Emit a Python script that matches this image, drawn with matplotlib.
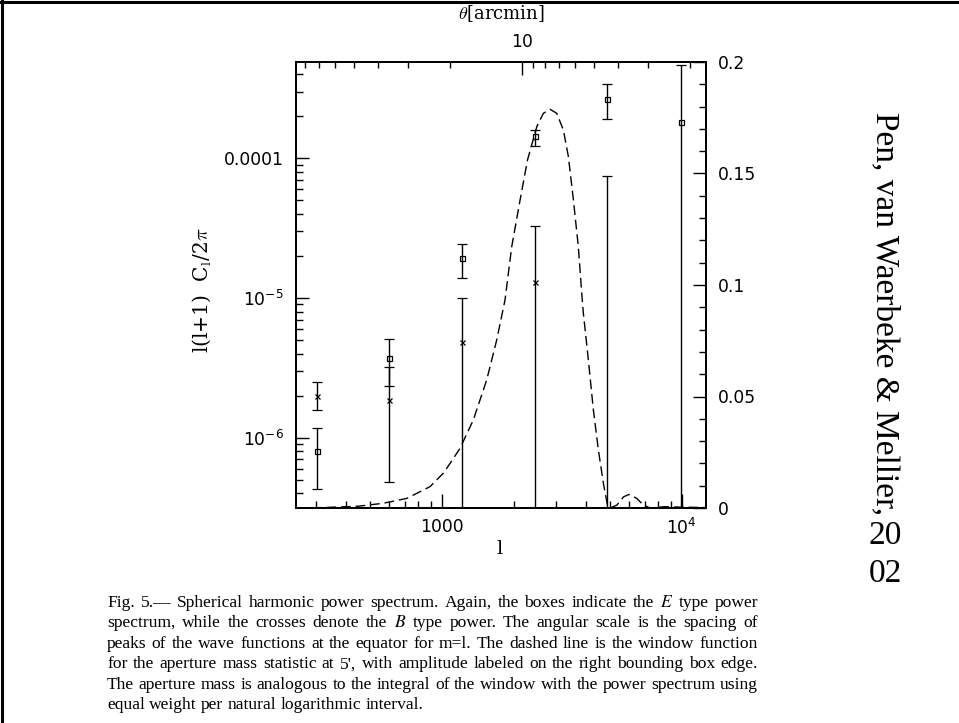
import numpy as np
import matplotlib.pyplot as plt
from matplotlib.ticker import NullFormatter, MultipleLocator

# E (boxes) and B (crosses) power per band
ell = [301, 603, 1218, 2441, 4896, 9900]
e_val = [8.07e-7, 3.70e-6, 1.92e-5, 1.444e-4, 2.67e-4, 1.82e-4]
e_hi = [1.18e-6, 5.11e-6, 2.42e-5, 1.59e-4, 3.39e-4, 4.68e-4]
e_lo = [4.3e-7, 2.34e-6, 1.40e-5, 1.225e-4, 1.90e-4, 1e-8]
b_val = [1.99e-6, 1.86e-6, 4.87e-6, 1.31e-5, 2e-7, np.nan]
b_hi = [2.49e-6, 3.22e-6, 1.00e-5, 3.28e-5, 7.51e-5, np.nan]
b_lo = [1.58e-6, 4.84e-7, 1e-8, 1e-8, 1e-8, np.nan]

# aperture mass window (right axis)
w_ell = [250, 321, 450, 569, 715, 894, 1015, 1083, 1192, 1354, 1539, 1694, 1835,
         1957, 2120, 2276, 2489, 2651, 2827, 3014, 3212, 3371, 3537, 3707, 3831,
         3891, 4082, 4283, 4494, 4715, 4902, 5030, 5365, 5718, 6036, 6497, 6925,
         7385, 8500, 9800, 12500]
w_amp = [0.0, 0.0002, 0.0008, 0.0021, 0.0043, 0.0096, 0.0156, 0.0200, 0.0268,
         0.0395, 0.0574, 0.0753, 0.0933, 0.1172, 0.1381, 0.156, 0.171, 0.177,
         0.1788, 0.177, 0.1695, 0.1575, 0.1381, 0.1172, 0.0963, 0.0873, 0.0664,
         0.044, 0.026, 0.0111, 0.0013, 0.0, 0.0013, 0.005, 0.0061, 0.0043, 0.0013,
         0.0, 0.0006, 0.0004, 0.0002]

caption = [
    "Fig. 5.\u2014 Spherical harmonic power spectrum. Again, the boxes indicate the $E$ type power",
    "spectrum, while the crosses denote the $B$ type power. The angular scale is the spacing of",
    "peaks of the wave functions at the equator for m=l. The dashed line is the window function",
    "for the aperture mass statistic at 5', with amplitude labeled on the right bounding box edge.",
    "The aperture mass is analogous to the integral of the window with the power spectrum using",
    "equal weight per natural logarithmic interval.",
]

W, H = 959, 723
fig = plt.figure(figsize=(W / 100, H / 100), dpi=100)

# axes box in pixels: left 296, right 706, top 62, bottom 508
ax = fig.add_axes([296 / W, 1 - 508 / H, 410 / W, 446 / H])
ax.set_xscale('log')
ax.set_yscale('log')
xlo, xhi = 247, 12620
ax.set_xlim(xlo, xhi)
ax.set_ylim(3.14e-7, 4.89e-4)

def bars(val, lo, hi, marker):
    val = np.array(val)
    yerr = [val - np.array(lo), np.array(hi) - val]
    ax.errorbar(ell, val, yerr=yerr, fmt=marker, color='black', ms=3.6,
                mfc='none', mec='black', mew=0.9, elinewidth=1.0,
                capsize=3.6, capthick=1.0)

bars(e_val, e_lo, e_hi, 's')
bars(b_val, b_lo, b_hi, 'x')

ax.set_xticks([1000, 10000], ['1000', '$10^4$'])
ax.set_yticks([1e-6, 1e-5, 1e-4], ['$10^{-6}$', '$10^{-5}$', '0.0001'])
ax.xaxis.set_minor_formatter(NullFormatter())
ax.yaxis.set_minor_formatter(NullFormatter())
ax.tick_params(which='both', direction='in', top=False, right=False,
               labelsize=12.3, width=1.0)
ax.tick_params(axis='y', which='major', length=9.5, pad=9)
ax.tick_params(axis='x', which='major', length=10, pad=7)
ax.tick_params(which='minor', length=5)

# right axis: window amplitude
axr = ax.twinx()
axr.plot(w_ell, w_amp, color='black', lw=1.0, dashes=(7, 3.5))
axr.set_xlim(xlo, xhi)
axr.set_ylim(0, 0.2)
axr.set_yticks([0, 0.05, 0.1, 0.15, 0.2], ['0', '0.05', '0.1', '0.15', '0.2'])
axr.yaxis.set_minor_locator(MultipleLocator(0.01))
axr.tick_params(which='both', direction='in', labelsize=12.3, width=1.0)
axr.tick_params(which='major', length=9.5, pad=8.5)
axr.tick_params(which='minor', length=5)

# top axis: angular scale theta = 21600 / l arcmin
axt = ax.twiny()
axt.set_xscale('log')
axt.set_xlim(21600 / xlo, 21600 / xhi)
axt.set_xticks([10], ['10'])
axt.xaxis.set_minor_formatter(NullFormatter())
axt.tick_params(which='both', direction='in', labelsize=12.3, width=1.0)
axt.tick_params(which='major', length=9, pad=8)
axt.tick_params(which='minor', length=4)

for a in (ax, axr, axt):
    for s in a.spines.values():
        s.set_linewidth(1.3)

fig.text(501 / W, 1 - 14 / H, r'$\theta$[arcmin]', ha='center', va='center',
         fontsize=13, family='DejaVu Serif', math_fontfamily='cm')
fig.text(500 / W, 1 - 549 / H, 'l', ha='center', va='center', fontsize=14,
         family='DejaVu Serif')
fig.text(202 / W, 1 - 290 / H, r'l(l+1)  C$_{\rm l}$/2$\pi$', rotation=90,
         ha='center', va='center', fontsize=14.5, family='DejaVu Serif',
         math_fontfamily='cm')

# credit on the right side
fig.text(885 / W, 1 - 112 / H, 'Pen, van Waerbeke & Mellier,', rotation=-90,
         ha='center', va='top', fontsize=24, family='Liberation Serif')
fig.text(885 / W, 1 - 536 / H, '20', ha='center', va='center', fontsize=24,
         family='Liberation Serif')
fig.text(885 / W, 1 - 574 / H, '02', ha='center', va='center', fontsize=24,
         family='Liberation Serif')

# caption, justified to the block width like the printed page
cap_left, cap_width = 107, 651
renderer = fig.canvas.get_renderer()
for i, line in enumerate(caption):
    y = 1 - (603 + 20.4 * i) / H
    words = line.split(' ')
    texts = [fig.text(0, y, w, ha='left', va='center', fontsize=12.6,
                      family='Liberation Serif', math_fontfamily='stix')
             for w in words]
    widths = [t.get_window_extent(renderer=renderer).width for t in texts]
    space = 12.6 * 100 / 72 * 0.25
    if i < len(caption) - 1:
        space = (cap_width - sum(widths)) / (len(words) - 1)
    x = cap_left
    for t, w in zip(texts, widths):
        t.set_x(x / W)
        x += w + space

# page frame (top and left edges)
fig.add_artist(plt.Line2D([0, 1], [1 - 1.5 / H, 1 - 1.5 / H], color='black',
                          lw=2.2, transform=fig.transFigure))
fig.add_artist(plt.Line2D([2 / W, 2 / W], [0, 1], color='black', lw=2.2,
                          transform=fig.transFigure))

fig.savefig('out.png', dpi=100)
